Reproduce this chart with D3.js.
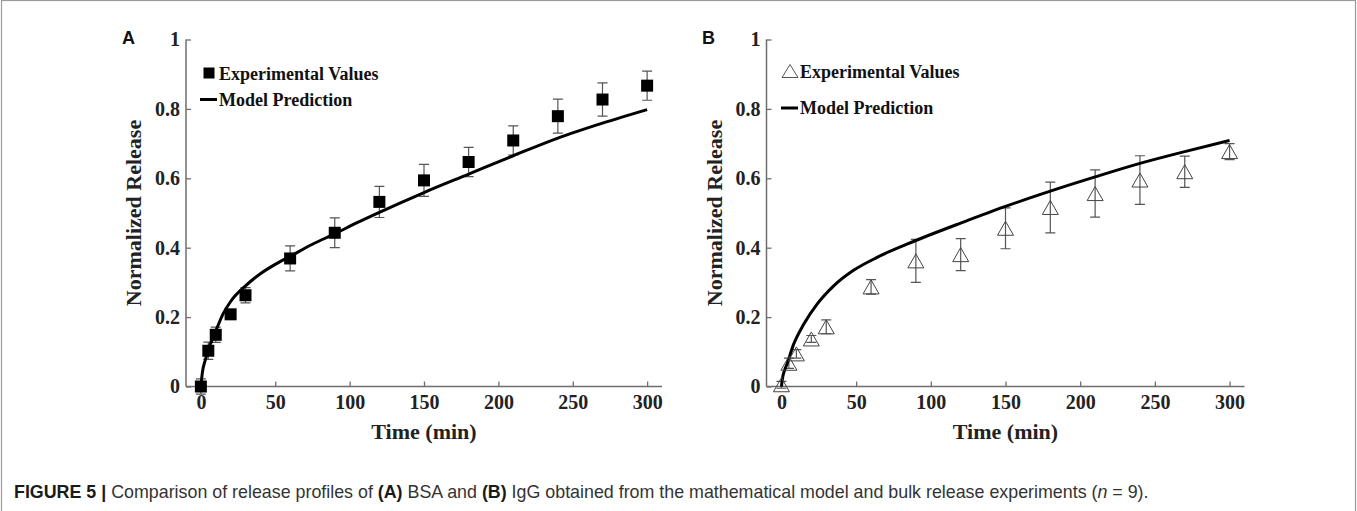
<!DOCTYPE html>
<html>
<head>
<meta charset="utf-8">
<script src="https://cdn.jsdelivr.net/npm/d3@7/dist/d3.min.js"></script>
<style>
  html, body { margin: 0; padding: 0; background: #fff; }
  svg { display: block; }
</style>
</head>
<body>
<svg id="chart" width="1357" height="511"></svg>
<script>
// ---------- data ----------
const timesExp = [0, 5, 10, 20, 30, 60, 90, 120, 150, 180, 210, 240, 270, 300];
const bsaValues = [0, 0.103, 0.149, 0.208, 0.263, 0.369, 0.443, 0.532, 0.594, 0.647, 0.709, 0.779, 0.827, 0.867];
const bsaErrors = [0.022, 0.025, 0.022, 0.01, 0.022, 0.036, 0.043, 0.045, 0.046, 0.042, 0.042, 0.049, 0.048, 0.042];
const iggValues = [0.005, 0.067, 0.094, 0.137, 0.172, 0.287, 0.362, 0.38, 0.456, 0.516, 0.556, 0.595, 0.619, 0.677];
const iggErrors = [0.01, 0.015, 0.012, 0.01, 0.02, 0.021, 0.062, 0.046, 0.059, 0.073, 0.068, 0.07, 0.045, 0.023];

const bsaModelTimes = [0, 1, 3, 5, 8, 10, 15, 20, 30, 40, 50, 60, 75, 90, 105, 120, 150, 180, 210, 240, 270, 300];
const bsaModelValues = [0, 0.04, 0.077, 0.105, 0.14, 0.16, 0.21, 0.245, 0.29, 0.325, 0.352, 0.375, 0.41, 0.44, 0.472, 0.502, 0.559, 0.612, 0.665, 0.716, 0.759, 0.798];
const iggModelTimes = [0, 1, 2, 4, 8, 15, 24, 35, 48, 64, 84, 100, 120, 150, 180, 210, 240, 270, 300];
const iggModelValues = [0, 0.03, 0.045, 0.068, 0.12, 0.18, 0.238, 0.29, 0.334, 0.372, 0.41, 0.438, 0.471, 0.519, 0.563, 0.604, 0.643, 0.677, 0.709];

const xTicks = [0, 50, 100, 150, 200, 250, 300];
const yTicks = [0, 0.2, 0.4, 0.6, 0.8, 1];
const yTickLabels = ["0", "0.2", "0.4", "0.6", "0.8", "1"];
const panelLabels = ["A", "B"];
const legendLabels = ["Experimental Values", "Model Prediction"];
const xTitle = "Time (min)";
const yTitle = "Normalized Release";

// ---------- layout ----------
const svg = d3.select("#chart");
const W = 1357, H = 511;
const serif = "'Liberation Serif','Times New Roman',Times,serif";
const axisColor = "#6e6e6e";
const errColor = "#555";

// border
svg.append("rect").attr("x", 1.5).attr("y", 0.5).attr("width", W - 3).attr("height", H + 5)
  .attr("fill", "none").attr("stroke", "#9a9a9a").attr("stroke-width", 1.2);

const panels = [
  { label: panelLabels[0], xr: [186, 662], labelX: 122, exp: bsaValues, err: bsaErrors,
    mt: bsaModelTimes, mv: bsaModelValues, marker: "square",
    leg: { mx: 209, r1: 73, t1: 80, r2: 99.5, t2: 106 } },
  { label: panelLabels[1], xr: [766.5, 1244.5], labelX: 702, exp: iggValues, err: iggErrors,
    mt: iggModelTimes, mv: iggModelValues, marker: "triangle",
    leg: { mx: 790, r1: 71, t1: 78, r2: 108, t2: 114 } }
];

panels.forEach(p => {
  const g = svg.append("g");
  const x = d3.scaleLinear().domain([-10, 310]).range(p.xr);
  const y = d3.scaleLinear().domain([0, 1]).range([386.5, 39.5]);

  // x axis
  const xAxis = g.append("g").attr("transform", `translate(0,${y(0)})`)
    .call(d3.axisBottom(x).tickValues(xTicks).tickSize(-5).tickPadding(10).tickFormat(d3.format("d")));
  // y axis
  const yAxis = g.append("g").attr("transform", `translate(${x(-10)},0)`)
    .call(d3.axisLeft(y).tickValues(yTicks).tickSize(-5).tickPadding(6).tickFormat((d, i) => yTickLabels[i]));
  [xAxis, yAxis].forEach(a => {
    a.select(".domain").attr("stroke", axisColor).attr("stroke-width", 1.5);
    a.selectAll(".tick line").attr("stroke", axisColor).attr("stroke-width", 1.3);
    a.selectAll(".tick text").attr("fill", "#222").attr("font-family", serif)
      .attr("font-weight", "bold").attr("font-size", 20);
  });
  xAxis.select(".domain").attr("d", `M${p.xr[0]},0H${p.xr[1]}`);
  yAxis.select(".domain").attr("d", `M0,${y(0)}V${y(1)}`);
  xAxis.selectAll(".tick text").attr("dy", "0.71em").attr("y", 8);

  // titles
  g.append("text").attr("x", (p.xr[0] + p.xr[1]) / 2).attr("y", 439)
    .attr("text-anchor", "middle").attr("font-family", serif).attr("font-weight", "bold")
    .attr("font-size", 22).attr("fill", "#222").text(xTitle);
  g.append("text").attr("transform", `translate(${x(-10) - 45},${(y(0) + y(1)) / 2}) rotate(-90)`)
    .attr("text-anchor", "middle").attr("font-family", serif).attr("font-weight", "bold")
    .attr("font-size", 22).attr("fill", "#222").text(yTitle);

  // panel label
  g.append("text").attr("x", p.labelX).attr("y", 43.5)
    .attr("font-family", "'Liberation Sans',Arial,sans-serif").attr("font-weight", "bold")
    .attr("font-size", 18).attr("fill", "#111").text(p.label);

  // error bars
  const cap = 5;
  const eb = g.append("g").attr("stroke", errColor).attr("stroke-width", 1.2).attr("fill", "none");
  timesExp.forEach((t, i) => {
    const cx = x(t), lo = y(p.exp[i] - p.err[i]), hi = y(p.exp[i] + p.err[i]);
    eb.append("path").attr("d", `M${cx},${lo}V${hi}M${cx - cap},${lo}H${cx + cap}M${cx - cap},${hi}H${cx + cap}`);
  });

  // model line
  const line = d3.line().x((d, i) => x(p.mt[i])).y(d => y(d)).curve(d3.curveMonotoneX);
  g.append("path").attr("d", line(p.mv)).attr("fill", "none").attr("stroke", "#000")
    .attr("stroke-width", 3).attr("stroke-linejoin", "round");

  // markers
  const tri = (cx, cy, w, h) => `M${cx},${cy - h / 2}L${cx + w / 2},${cy + h / 2}L${cx - w / 2},${cy + h / 2}Z`;
  timesExp.forEach((t, i) => {
    const cx = x(t), cy = y(p.exp[i]);
    if (p.marker === "square") {
      g.append("rect").attr("x", cx - 6).attr("y", cy - 6).attr("width", 12).attr("height", 12).attr("fill", "#000");
    } else {
      g.append("path").attr("d", tri(cx, cy, 16, 14)).attr("fill", "none").attr("stroke", "#444").attr("stroke-width", 1);
    }
  });

  // legend
  const L = p.leg;
  if (p.marker === "square") {
    g.append("rect").attr("x", L.mx - 5.5).attr("y", L.r1 - 5.5).attr("width", 11).attr("height", 11).attr("fill", "#000");
  } else {
    g.append("path").attr("d", tri(L.mx, L.r1, 16, 13)).attr("fill", "none").attr("stroke", "#555").attr("stroke-width", 1);
  }
  g.append("line").attr("x1", L.mx - 9).attr("x2", L.mx + 8).attr("y1", L.r2).attr("y2", L.r2)
    .attr("stroke", "#000").attr("stroke-width", 3);
  g.append("text").attr("x", L.mx + 10).attr("y", L.t1).attr("font-family", serif).attr("font-weight", "bold")
    .attr("font-size", 18).attr("fill", "#111").text(legendLabels[0]);
  g.append("text").attr("x", L.mx + 10).attr("y", L.t2).attr("font-family", serif).attr("font-weight", "bold")
    .attr("font-size", 18).attr("fill", "#111").text(legendLabels[1]);
});

// caption (condensed sans: drawn larger and compressed horizontally)
const capFont = "'Liberation Sans Narrow','Arial Narrow','Liberation Sans',Arial,sans-serif";
const capG = svg.append("g");
const cap = capG.append("text").attr("x", 0).attr("y", 0).attr("font-family", capFont)
  .attr("font-size", 17.5).attr("fill", "#333");
const parts = [
  ["FIGURE 5 |", "bold", "normal", "#1a1a1a"],
  [" Comparison of release profiles of ", "normal", "normal", "#333"],
  ["(A)", "bold", "normal", "#1a1a1a"],
  [" BSA and ", "normal", "normal", "#333"],
  ["(B)", "bold", "normal", "#1a1a1a"],
  [" IgG obtained from the mathematical model and bulk release experiments (", "normal", "normal", "#333"],
  ["n", "normal", "italic", "#333"],
  [" = 9).", "normal", "normal", "#333"]
];
parts.forEach(pt => cap.append("tspan").attr("font-weight", pt[1]).attr("font-style", pt[2]).attr("fill", pt[3]).text(pt[0]));
const wNow = cap.node().getComputedTextLength();
capG.attr("transform", `translate(14,497.5) scale(${1136 / wNow},1)`);
</script>
</body>
</html>
